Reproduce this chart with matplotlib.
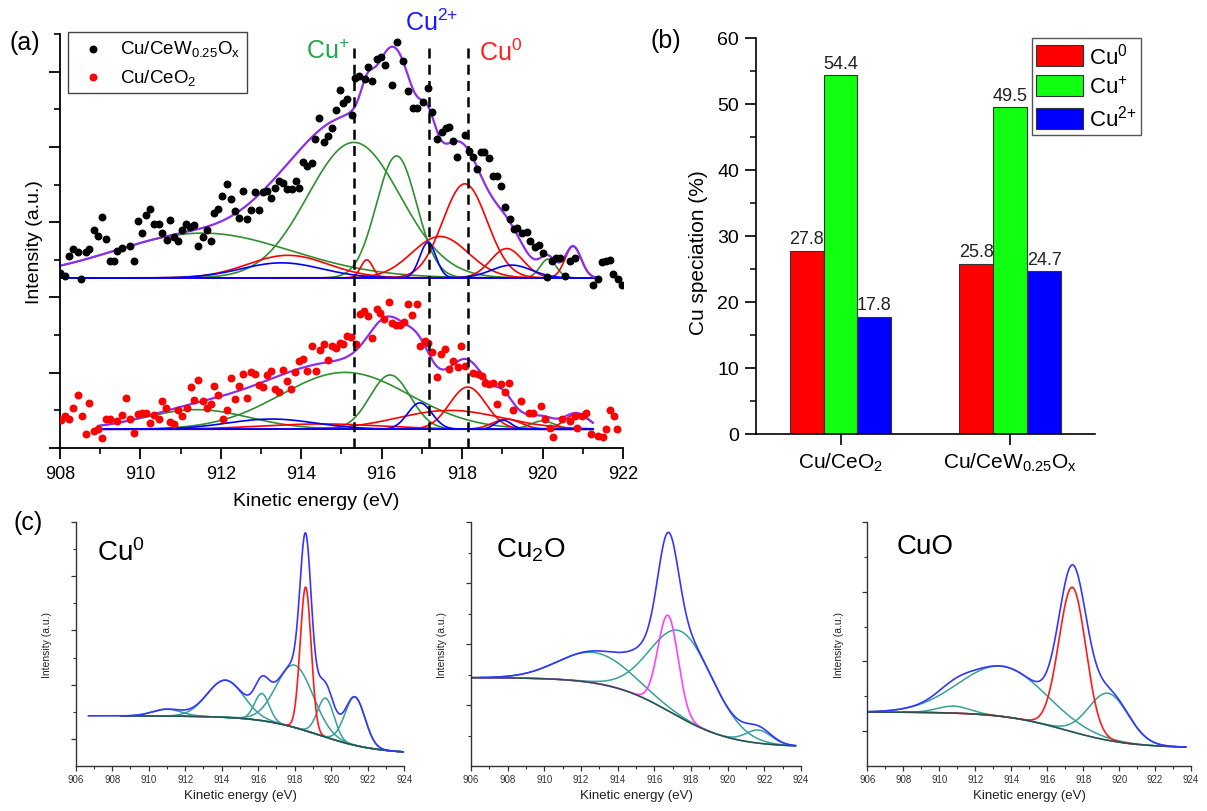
import numpy as np
import matplotlib
matplotlib.use("Agg")
import matplotlib.pyplot as plt
from matplotlib.ticker import MultipleLocator

plt.rcParams['font.family'] = ['Liberation Sans', 'DejaVu Sans']
plt.rcParams['mathtext.default'] = 'regular'

# ---------------- (a) Cu LMM spectra, measured points ----------------
cew_ev = [908.00, 908.12, 908.22, 908.33, 908.44, 908.52, 908.64, 908.73, 908.85, 908.94,
          909.04, 909.14, 909.24, 909.35, 909.43, 909.53, 909.74, 909.84, 909.93, 910.05,
          910.14, 910.24, 910.34, 910.45, 910.54, 910.65, 910.74, 910.84, 910.94, 911.04,
          911.13, 911.23, 911.34, 911.44, 911.55, 911.65, 911.75, 911.84, 911.94, 912.04,
          912.15, 912.25, 912.35, 912.45, 912.54, 912.64, 912.75, 912.85, 912.95, 913.06,
          913.16, 913.26, 913.35, 913.45, 913.55, 913.65, 913.76, 913.86, 913.95, 914.05,
          914.15, 914.26, 914.34, 914.45, 914.56, 914.66, 914.76, 914.86, 914.96, 915.05,
          915.15, 915.25, 915.34, 915.44, 915.59, 915.67, 915.75, 915.88, 915.98, 916.08,
          916.25, 916.37, 916.54, 916.66, 916.77, 916.87, 917.02, 917.16, 917.26, 917.37,
          917.49, 917.59, 917.68, 917.78, 917.87, 918.07, 918.18, 918.28, 918.36, 918.46,
          918.55, 918.68, 918.76, 918.86, 918.97, 919.07, 919.19, 919.29, 919.37, 919.48,
          919.61, 919.69, 919.81, 919.92, 920.02, 920.12, 920.23, 920.34, 920.43, 920.56,
          920.68, 920.81, 921.26, 921.37, 921.47, 921.58, 921.68, 921.76, 921.88, 921.97]
cew_int = [2.33, 2.28, 2.55, 2.64, 2.60, 2.24, 2.60, 2.64, 2.90, 2.82,
           3.07, 2.78, 2.49, 2.49, 2.62, 2.66, 2.69, 2.49, 3.01, 2.85,
           3.10, 3.17, 2.98, 2.98, 2.86, 2.77, 3.03, 2.80, 2.75, 2.89,
           2.98, 2.94, 2.96, 2.68, 2.80, 2.89, 2.75, 3.12, 3.17, 3.35,
           3.51, 3.31, 3.15, 3.06, 3.42, 3.04, 3.16, 3.40, 3.16, 3.40,
           3.42, 3.32, 3.45, 3.55, 3.52, 3.44, 3.44, 3.55, 3.46, 3.80,
           3.75, 3.79, 4.10, 4.38, 4.06, 4.15, 4.25, 4.49, 4.76, 4.58,
           4.64, 4.42, 4.92, 4.94, 4.90, 5.06, 4.88, 5.17, 5.20, 5.09,
           4.82, 5.39, 5.14, 4.74, 4.52, 4.52, 4.60, 4.78, 4.47, 4.11,
           4.20, 4.25, 4.27, 4.08, 3.87, 4.16, 3.95, 3.87, 3.71, 3.93,
           3.93, 3.85, 3.61, 3.62, 3.48, 3.20, 3.04, 2.91, 2.92, 2.86,
           2.87, 2.75, 2.67, 2.70, 2.59, 2.27, 2.49, 2.52, 2.52, 2.28,
           2.49, 2.52, 2.17, 2.24, 2.47, 2.49, 2.50, 2.31, 2.25, 2.17]

ceo_ev = [908.02, 908.12, 908.23, 908.33, 908.44, 908.54, 908.64, 908.73, 908.85, 908.94,
          909.04, 909.14, 909.24, 909.43, 909.53, 909.63, 909.74, 909.84, 909.93, 910.05,
          910.14, 910.24, 910.34, 910.45, 910.54, 910.64, 910.74, 910.84, 910.94, 911.04,
          911.15, 911.25, 911.34, 911.44, 911.55, 911.65, 911.75, 911.84, 911.94, 912.05,
          912.15, 912.25, 912.35, 912.45, 912.54, 912.64, 912.75, 912.85, 912.95, 913.06,
          913.16, 913.25, 913.35, 913.45, 913.55, 913.65, 913.75, 913.84, 913.95, 914.05,
          914.15, 914.26, 914.36, 914.46, 914.56, 914.66, 914.76, 914.86, 914.96, 915.05,
          915.15, 915.24, 915.35, 915.46, 915.57, 915.67, 915.75, 915.88, 915.96, 916.07,
          916.17, 916.25, 916.35, 916.46, 916.56, 916.66, 916.76, 916.87, 916.95, 917.08,
          917.16, 917.26, 917.37, 917.48, 917.57, 917.68, 917.78, 917.89, 917.97, 918.06,
          918.28, 918.39, 918.49, 918.57, 918.68, 918.78, 918.86, 918.96, 919.07, 919.17,
          919.26, 919.46, 919.67, 919.77, 919.96, 920.06, 920.19, 920.27, 920.48, 920.68,
          920.81, 920.87, 920.97, 921.08, 921.20, 921.39, 921.50, 921.58, 921.68, 921.78,
          921.86]
ceo_int = [0.37, 0.42, 0.39, 0.53, 0.70, 0.42, 0.19, 0.60, 0.23, 0.25,
           0.13, 0.39, 0.39, 0.36, 0.44, 0.66, 0.39, 0.20, 0.45, 0.47,
           0.47, 0.33, 0.44, 0.39, 0.62, 0.53, 0.35, 0.32, 0.50, 0.42,
           0.53, 0.81, 0.64, 0.90, 0.62, 0.53, 0.58, 0.82, 0.70, 0.39,
           0.50, 0.93, 0.65, 0.82, 0.99, 0.66, 1.01, 0.99, 0.84, 0.81,
           0.97, 1.02, 0.79, 0.74, 1.04, 0.89, 0.78, 1.01, 1.15, 1.18,
           1.02, 1.35, 1.02, 1.30, 1.38, 1.17, 1.36, 1.33, 1.40, 1.38,
           1.49, 1.47, 1.38, 1.78, 1.82, 1.75, 1.46, 1.85, 1.80, 1.71,
           1.94, 1.66, 1.63, 1.63, 1.67, 1.91, 1.77, 1.91, 1.35, 1.42,
           1.39, 1.27, 0.95, 1.25, 1.31, 1.05, 1.16, 1.07, 1.36, 1.09,
           1.00, 0.98, 0.96, 0.87, 0.85, 0.87, 0.59, 0.85, 0.75, 0.86,
           0.51, 0.63, 0.47, 0.47, 0.56, 0.39, 0.27, 0.15, 0.39, 0.36,
           0.42, 0.27, 0.43, 0.46, 0.19, 0.16, 0.14, 0.25, 0.51, 0.43,
           0.25]

# fitted components: (position eV, height, sigma)
cew_base = 2.26
cew_green = [(911.55, 0.595, 2.2), (915.31, 1.80, 1.15), (916.37, 1.62, 0.5), (920.14, 0.25, 0.2)]
cew_red = [(913.67, 0.30, 1.0), (915.63, 0.24, 0.15), (917.45, 0.55, 0.7),
           (918.07, 1.25, 0.55), (919.11, 0.39, 0.4), (920.76, 0.42, 0.2)]
cew_blue = [(913.51, 0.20, 1.0), (917.15, 0.47, 0.2), (919.23, 0.17, 0.5)]

ceo_base = 0.25
ceo_green = [(911.4, 0.26, 1.3), (915.09, 0.755, 1.6), (916.21, 0.72, 0.5), (920.0, 0.11, 0.3)]
ceo_red = [(914.5, 0.07, 1.5), (917.7, 0.25, 1.3), (918.14, 0.56, 0.45),
           (919.11, 0.135, 0.35), (920.85, 0.20, 0.3)]
ceo_blue = [(913.26, 0.135, 1.1), (916.95, 0.35, 0.3), (919.02, 0.12, 0.2)]

state_lines = [915.3, 917.18, 918.14]

# ---------------- (b) Cu speciation ----------------
samples = ['Cu/CeO$_2$', 'Cu/CeW$_{0.25}$O$_x$']
species = ['Cu$^0$', 'Cu$^{+}$', 'Cu$^{2{+}}$']
speciation = {'Cu$^0$': [27.8, 25.8], 'Cu$^{+}$': [54.4, 49.5], 'Cu$^{2{+}}$': [17.8, 24.7]}
bar_colors = ['#ff0000', '#11ff11', '#0000ff']

# ---------------- (c) reference spectra ----------------
# background: (high, low, midpoint, width)
ref_names = ['Cu$^0$', 'Cu$_2$O', 'CuO']
ref_bg = [(1.85, 0.45, 919.3, 1.6), (2.9, 0.62, 916.9, 1.7), (1.55, 0.52, 917.0, 1.8)]
ref_teal = [[(911.0, 0.25, 0.8), (914.2, 1.37, 1.0), (916.2, 1.0, 0.4), (918.0, 2.3, 1.0),
             (919.7, 1.44, 0.45), (921.3, 1.78, 0.55)],
            [(912.8, 1.0, 2.0), (917.5, 2.84, 1.7), (921.7, 0.43, 0.7)],
            [(910.8, 0.2, 0.9), (913.5, 1.44, 2.4), (919.4, 1.35, 1.1)]]
ref_main = [(918.6, 5.3, 0.3), (916.75, 3.13, 0.55), (917.4, 4.15, 0.75)]
ref_main_span = [(917.6, 919.6), (906.0, 919.0), (908.0, 921.0)]
ref_main_color = ['#ff1a1a', '#ff40ff', '#ff1a1a']
ref_fit_span = [(908.5, 924.0), (906.0, 923.7), (906.0, 923.7)]
ref_meas_span = [(906.7, 924.0), (906.5, 923.7), (906.0, 923.7)]
ref_ylim = [9, 8, 7]
ref_major = [[1, 3, 5, 7, 9], [2, 4, 6, 8], [1, 3, 5, 7]]
ref_minor = [[2, 4, 6, 8], [1, 3, 5, 7], [2, 4, 6]]


def peak(x, pos, height, sigma):
    return height * np.exp(-0.5 * ((x - pos) / sigma) ** 2)


def step_bg(x, hi, lo, mid, width):
    return lo + (hi - lo) / (1.0 + np.exp((x - mid) / width))


fig = plt.figure(figsize=(12.07, 8.12), dpi=100)

# ----- panel (a) -----
purple = '#8c2ef0'
green = '#2f8f2f'
ax = fig.add_axes([0.0497, 0.4470, 0.4664, 0.5099])


def draw_fit(ax, x, base, groups):
    ax.plot(x, np.full_like(x, base), color='blue', lw=1.3, zorder=2)
    total = np.full_like(x, base)
    for peaks, col in groups:
        for pos, h, s in peaks:
            y = peak(x, pos, h, s)
            ax.plot(x, base + y, color=col, lw=1.2, zorder=2)
            total = total + y
    ax.plot(x, total, color=purple, lw=1.6, zorder=2.5)


x_cew = np.linspace(908.0, 921.35, 800)
x_ceo = np.linspace(908.95, 921.25, 800)
draw_fit(ax, x_cew, cew_base, [(cew_green, green), (cew_red, 'red'), (cew_blue, 'blue')])
draw_fit(ax, x_ceo, ceo_base, [(ceo_green, green), (ceo_red, 'red'), (ceo_blue, 'blue')])

ax.scatter(cew_ev, cew_int, s=22, color='black', zorder=3, label='Cu/CeW$_{0.25}$O$_x$')
ax.scatter(ceo_ev, ceo_int, s=22, color='red', zorder=3, label='Cu/CeO$_2$')

for xv in state_lines:
    ax.plot([xv, xv], [0, 5.39], color='black', lw=1.8, ls=(0, (4, 2.5)), zorder=4, clip_on=False)

ax.text(914.66, 5.27, 'Cu$^{+}$', color='#22a84a', fontsize=18, ha='center', va='center')
ax.text(917.25, 5.66, 'Cu$^{2{+}}$', color='#1a1aff', fontsize=18, ha='center', va='center',
        clip_on=False)
ax.text(918.95, 5.26, 'Cu$^{0}$', color='#ff2020', fontsize=18, ha='center', va='center')

ax.set_xlim(908, 922)
ax.set_ylim(0, 5.5)
ax.xaxis.set_major_locator(MultipleLocator(2))
ax.xaxis.set_minor_locator(MultipleLocator(1))
ax.yaxis.set_major_locator(MultipleLocator(1))
ax.yaxis.set_minor_locator(MultipleLocator(0.5))
ax.tick_params(which='major', direction='out', length=8, width=1.3, labelsize=13, pad=4)
ax.tick_params(which='minor', direction='out', length=4.5, width=1.2)
ax.tick_params(axis='y', labelleft=False)
for side in ['top', 'right']:
    ax.spines[side].set_visible(False)
for side in ['left', 'bottom']:
    ax.spines[side].set_linewidth(1.3)
ax.set_xlabel('Kinetic energy (eV)', fontsize=14)
ax.xaxis.set_label_coords(0.455, -0.105)
ax.xaxis.label.set_va('top')
ax.set_ylabel('Intensity (a.u.)', fontsize=14)
ax.yaxis.set_label_coords(-0.030, 0.5)
leg = ax.legend(loc='upper left', bbox_to_anchor=(0.0142, 1.005), borderaxespad=0,
                fontsize=13.5, markerscale=1.0, handlelength=2.0, handletextpad=0.45,
                labelspacing=0.45, borderpad=0.35, fancybox=False, edgecolor='#444444',
                framealpha=1)
leg.get_frame().set_linewidth(1.0)

fig.text(25 / 1207, 1 - 43 / 812, '(a)', fontsize=18, ha='center', va='center')

# ----- panel (b) -----
axb = fig.add_axes([0.6261, 0.4643, 0.2811, 0.4877])
xpos = np.arange(len(samples))
bw = 0.2
for i, sp in enumerate(species):
    vals = speciation[sp]
    bars = axb.bar(xpos + (i - 1) * bw, vals, width=bw, color=bar_colors[i],
                   edgecolor='#333333', linewidth=0.8, label=sp, zorder=2)
    for b, v in zip(bars, vals):
        axb.text(b.get_x() + b.get_width() / 2, v + 0.5, f'{v:.1f}', ha='center', va='bottom',
                 fontsize=13, color='#222222')
axb.set_xlim(-0.5, 1.5)
axb.set_ylim(0, 60)
axb.set_xticks(xpos)
axb.set_xticklabels(samples, fontsize=15)
axb.yaxis.set_major_locator(MultipleLocator(10))
axb.yaxis.set_minor_locator(MultipleLocator(5))
axb.tick_params(which='major', direction='out', length=8, width=1.2, labelsize=14, pad=4)
axb.tick_params(axis='x', labelsize=15)
axb.tick_params(which='minor', direction='out', length=4.5, width=1.1)
for side in ['top', 'right']:
    axb.spines[side].set_visible(False)
for side in ['left', 'bottom']:
    axb.spines[side].set_linewidth(1.2)
axb.set_ylabel('Cu speciation (%)', fontsize=15)
axb.yaxis.set_label_coords(-0.14, 0.46)
legb = axb.legend(loc='upper left', bbox_to_anchor=(0.814, 1.0), borderaxespad=0, fontsize=16,
                  handlelength=2.1, handleheight=1.1, labelspacing=0.3, handletextpad=0.25,
                  borderpad=0.2, fancybox=False, edgecolor='#555555', framealpha=1)
legb.get_frame().set_linewidth(1.0)

fig.text(666 / 1207, 1 - 41 / 812, '(b)', fontsize=18, ha='center', va='center')

# ----- panel (c) -----
c_rects = [[0.0627, 0.0554, 0.2722, 0.3005],
           [0.3902, 0.0554, 0.2734, 0.3005],
           [0.7186, 0.0554, 0.2682, 0.3005]]
c_label_xy = [(0.065, 0.877), (0.076, 0.889), (0.091, 0.90)]
teal = '#36a09a'
for k in range(3):
    axc = fig.add_axes(c_rects[k])
    hi, lo, mid, wd = ref_bg[k]
    xf = np.linspace(ref_fit_span[k][0], ref_fit_span[k][1], 600)
    bg = step_bg(xf, hi, lo, mid, wd)
    for pos, h, s in ref_teal[k]:
        axc.plot(xf, bg + peak(xf, pos, h, s), color=teal, lw=1.1)
    xm0, xm1 = ref_main_span[k]
    xs = np.linspace(xm0, xm1, 400)
    axc.plot(xs, step_bg(xs, hi, lo, mid, wd) + peak(xs, *ref_main[k]),
             color=ref_main_color[k], lw=1.2)
    axc.plot(xf, bg, color='#2f4f4f', lw=1.1)
    xb = np.linspace(ref_meas_span[k][0], ref_meas_span[k][1], 800)
    total = step_bg(xb, hi, lo, mid, wd) + peak(xb, *ref_main[k])
    for pos, h, s in ref_teal[k]:
        total = total + peak(xb, pos, h, s)
    axc.plot(xb, total, color='#3535ff', lw=1.2)

    axc.set_xlim(906, 924)
    axc.set_ylim(0, ref_ylim[k])
    axc.xaxis.set_major_locator(MultipleLocator(2))
    axc.xaxis.set_minor_locator(MultipleLocator(1))
    axc.set_yticks(ref_major[k])
    axc.set_yticks(ref_minor[k], minor=True)
    axc.tick_params(which='major', direction='out', length=3.5, width=0.9, labelsize=7,
                    colors='#333333', pad=2)
    axc.tick_params(which='minor', direction='out', length=2, width=0.8, colors='#333333')
    axc.tick_params(axis='y', labelleft=False)
    for side in ['top', 'right']:
        axc.spines[side].set_visible(False)
    for side in ['left', 'bottom']:
        axc.spines[side].set_linewidth(1.0)
        axc.spines[side].set_color('#333333')
    axc.set_xlabel('Kinetic energy (eV)', fontsize=9.5, color='#222222', labelpad=4)
    axc.set_ylabel('Intensity (a.u.)', fontsize=7.5, color='#222222')
    axc.yaxis.set_label_coords(-0.072, 0.5)
    axc.text(c_label_xy[k][0], c_label_xy[k][1], ref_names[k], transform=axc.transAxes,
             fontsize=20, ha='left', va='center')

fig.text(28 / 1207, 1 - 523 / 812, '(c)', fontsize=18, ha='center', va='center')

fig.savefig('out.png', dpi=100)
